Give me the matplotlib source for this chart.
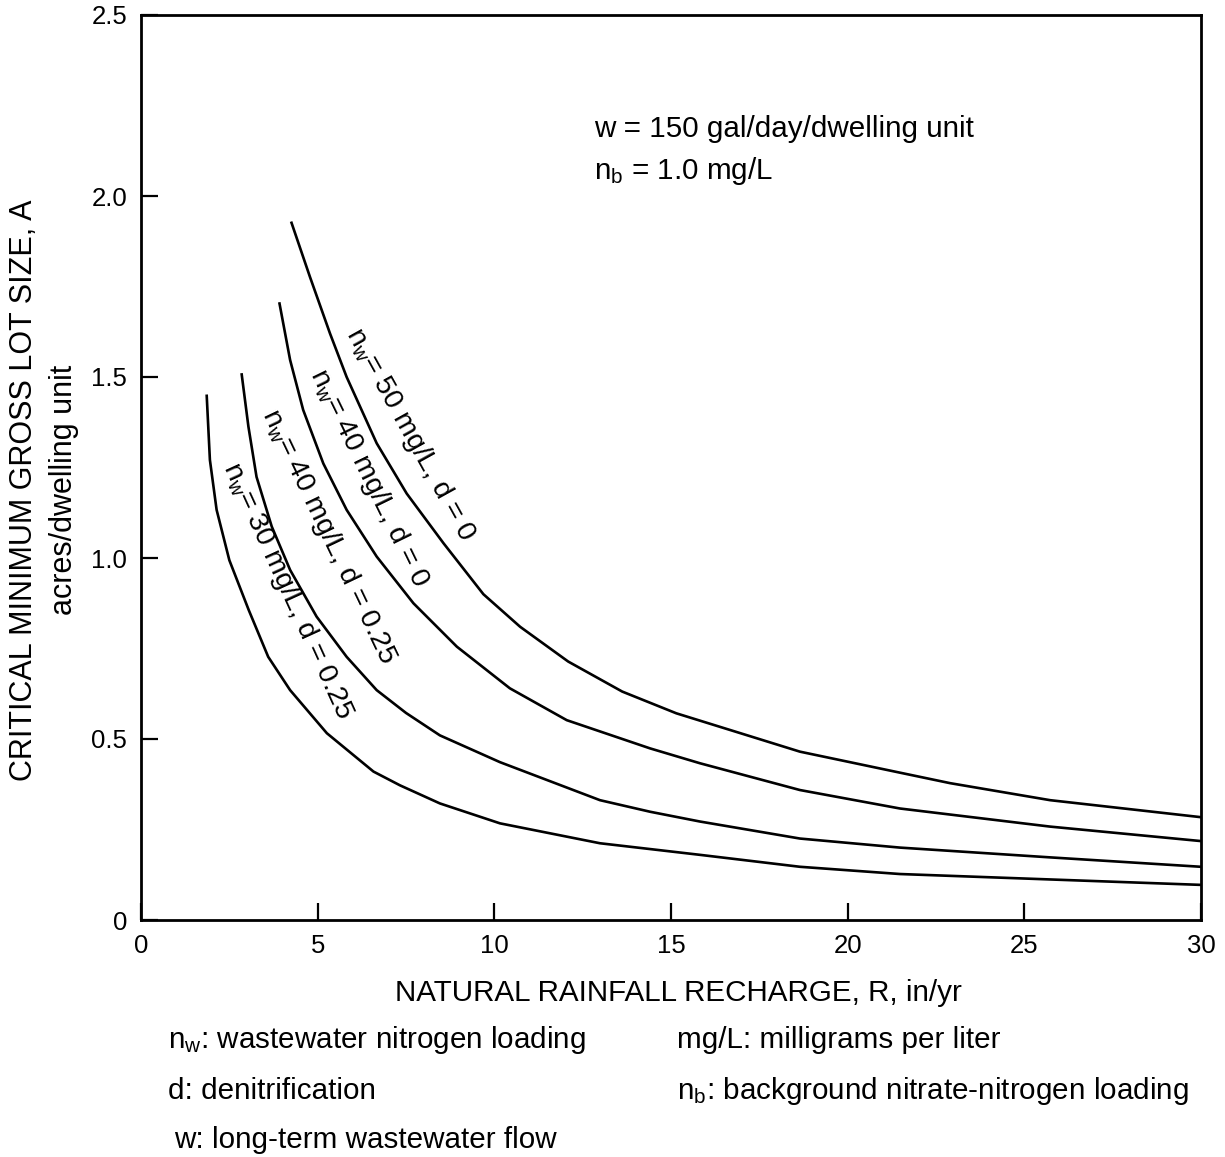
import matplotlib
matplotlib.use('Agg')
import matplotlib.pyplot as plt

plt.rcParams['font.family'] = ['Liberation Sans', 'DejaVu Sans']
plt.rcParams['mathtext.fontset'] = 'custom'
plt.rcParams['mathtext.rm'] = 'Liberation Sans'
plt.rcParams['mathtext.it'] = 'Liberation Sans'

# Curves: recharge R (in/yr) and lot size A (acres/dwelling unit)
r_50_d0 = [4.26, 4.78, 5.35, 5.82, 6.67, 7.52, 8.56, 9.69, 10.73, 12.09, 13.62, 15.15, 18.65, 21.48, 22.90, 25.73, 30.0]
a_50_d0 = [1.926, 1.777, 1.620, 1.50, 1.317, 1.178, 1.041, 0.90, 0.81, 0.714, 0.631, 0.571, 0.465, 0.407, 0.378, 0.331, 0.284]

r_40_d0 = [3.92, 4.22, 4.59, 5.16, 5.82, 6.67, 7.71, 8.94, 10.44, 12.05, 14.41, 15.82, 18.65, 21.48, 25.73, 30.0]
a_40_d0 = [1.703, 1.547, 1.409, 1.261, 1.133, 1.004, 0.875, 0.755, 0.64, 0.552, 0.474, 0.433, 0.359, 0.308, 0.258, 0.218]

r_40_d25 = [2.85, 3.04, 3.27, 3.70, 4.22, 4.97, 5.82, 6.67, 7.50, 8.46, 10.16, 12.99, 14.41, 15.82, 18.65, 21.48, 25.73, 30.0]
a_40_d25 = [1.507, 1.363, 1.224, 1.087, 0.967, 0.838, 0.727, 0.635, 0.572, 0.510, 0.436, 0.331, 0.299, 0.272, 0.225, 0.200, 0.173, 0.147]

r_30_d25 = [1.86, 1.95, 2.14, 2.50, 3.05, 3.60, 4.22, 5.26, 6.58, 7.33, 8.46, 10.16, 12.99, 15.82, 18.65, 21.48, 25.73, 30.0]
a_30_d25 = [1.448, 1.271, 1.133, 0.994, 0.856, 0.727, 0.635, 0.516, 0.410, 0.372, 0.322, 0.267, 0.212, 0.180, 0.147, 0.127, 0.112, 0.097]

curve_labels = [r'n$_\mathregular{w}$= 50 mg/L, d = 0',
                r'n$_\mathregular{w}$= 40 mg/L, d = 0',
                r'n$_\mathregular{w}$= 40 mg/L, d = 0.25',
                r'n$_\mathregular{w}$= 30 mg/L, d = 0.25']
# label centre (R, A) and angle on the page
label_pos = [(7.61, 1.34), (6.45, 1.22), (5.30, 1.06), (4.16, 0.91)]
label_rot = [-61, -64, -64.5, -65.5]

xticks = [0, 5, 10, 15, 20, 25, 30]
yticks = [0, 0.5, 1.0, 1.5, 2.0, 2.5]
ytick_labels = ['0', '0.5', '1.0', '1.5', '2.0', '2.5']

fs = 21.3

fig = plt.figure(figsize=(12.25, 11.57), dpi=100)
ax = fig.add_axes([141/1225, 1 - 920/1157, 1060/1225, 905/1157])

for r, a in [(r_50_d0, a_50_d0), (r_40_d0, a_40_d0), (r_40_d25, a_40_d25), (r_30_d25, a_30_d25)]:
    ax.plot(r, a, color='black', lw=1.9, solid_joinstyle='round')

for txt, (x, y), rot in zip(curve_labels, label_pos, label_rot):
    ax.text(x, y, txt, rotation=rot, rotation_mode='anchor', ha='center', va='center', fontsize=20.5)

ax.text(12.82, 2.185, 'w = 150 gal/day/dwelling unit', fontsize=fs, va='center')
ax.text(12.82, 2.07, r'n$_\mathregular{b}$ = 1.0 mg/L', fontsize=fs, va='center')

ax.set_xlim(0, 30)
ax.set_ylim(0, 2.5)
ax.set_xticks(xticks)
ax.set_yticks(yticks)
ax.set_yticklabels(ytick_labels)
ax.tick_params(direction='in', length=12, width=1.6, labelsize=18.5, top=False, right=False)
ax.tick_params(axis='x', pad=10)
ax.tick_params(axis='y', pad=10)
for s in ax.spines.values():
    s.set_linewidth(2)

fig.text(24/1225, 1 - 490/1157, 'CRITICAL MINIMUM GROSS LOT SIZE, A', rotation=90,
         ha='center', va='center', fontsize=22)
fig.text(64/1225, 1 - 490/1157, 'acres/dwelling unit', rotation=90,
         ha='center', va='center', fontsize=22)
fig.text(678/1225, 1 - 993/1157, 'NATURAL RAINFALL RECHARGE, R, in/yr',
         ha='center', va='center', fontsize=fs)

fig.text(168/1225, 1 - 1040/1157, r'n$_\mathregular{w}$: wastewater nitrogen loading', va='center', fontsize=fs)
fig.text(677/1225, 1 - 1040/1157, 'mg/L: milligrams per liter', va='center', fontsize=fs)
fig.text(168/1225, 1 - 1091/1157, 'd: denitrification', va='center', fontsize=fs)
fig.text(677/1225, 1 - 1091/1157, r'n$_\mathregular{b}$: background nitrate-nitrogen loading', va='center', fontsize=fs)
fig.text(174/1225, 1 - 1140/1157, 'w: long-term wastewater flow', va='center', fontsize=fs)

fig.savefig('out.png', dpi=100)
